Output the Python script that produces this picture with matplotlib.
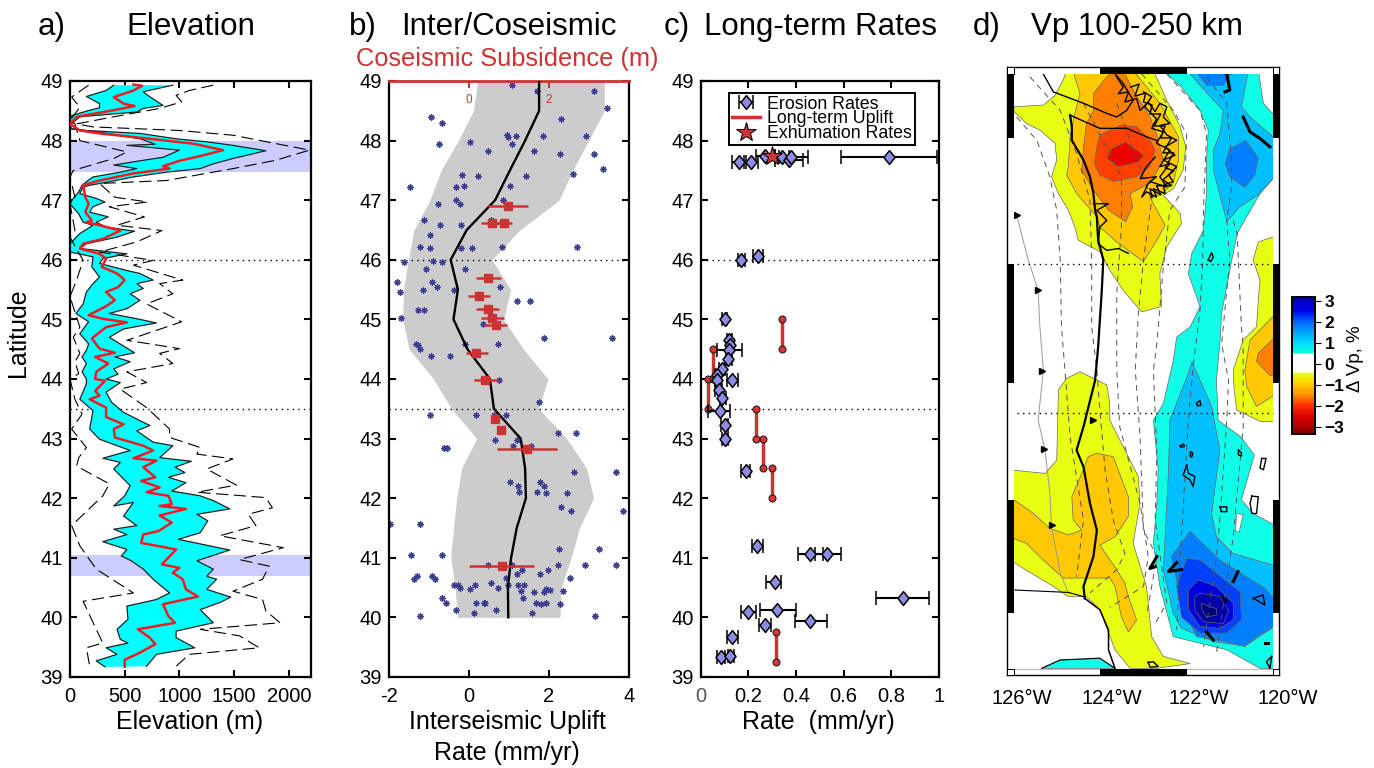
import matplotlib
matplotlib.use('Agg')
import matplotlib.pyplot as plt
from matplotlib.colors import LinearSegmentedColormap
from matplotlib.legend_handler import HandlerErrorbar
from matplotlib.lines import Line2D
from matplotlib.patches import Polygon, Rectangle
import numpy as np

plt.rcParams['font.family'] = ['Liberation Sans', 'DejaVu Sans']
plt.rcParams['axes.unicode_minus'] = False

W, H = 1374, 768
RED = '#cc3333'

# panel a, elevation (m) against latitude
upper = [(940,48.93),(670,48.82),(710,48.76),(850,48.59),(670,48.54),(610,48.48),(90,48.40),(0,48.26),(15,48.20),(150,48.17),
 (640,48.12),(970,48.03),(1250,47.98),(1490,47.92),(1790,47.83),(1490,47.70),(1310,47.61),(1190,47.53),(880,47.47),(580,47.39),
 (360,47.31),(180,47.25),(120,47.22),(90,47.11),(240,47.03),(320,46.97),(210,46.89),(180,46.80),(350,46.72),(240,46.63),
 (330,46.55),(590,46.48),(430,46.38),(150,46.27),(90,46.19),(520,46.10),(300,46.02),(270,45.94),(520,45.82),(640,45.77),
 (760,45.66),(610,45.60),(670,45.52),(550,45.43),(640,45.32),(520,45.18),(360,45.10),(640,45.00),(790,44.94),(490,44.84),
 (360,44.70),(430,44.62),(590,44.44),(410,44.37),(550,44.29),(400,44.17),(440,44.08),(330,44.00),(460,43.94),(330,43.78),
 (380,43.61),(490,43.44),(640,43.30),(730,43.22),(610,43.13),(760,42.94),(940,42.88),(820,42.68),(1110,42.62),(960,42.52),
 (1050,42.43),(900,42.35),(1060,42.26),(930,42.12),(1190,42.04),(1310,41.96),(1460,41.82),(1160,41.73),(1260,41.62),(1190,41.42),
 (990,41.31),(1460,41.13),(1160,40.95),(1310,40.81),(1250,40.69),(1340,40.64),(1250,40.47),(1470,40.34),(1370,40.25),(1190,40.13),
 (1310,39.91),(970,39.77),(970,39.66),(1140,39.49),(790,39.38),(700,39.18)]
lower = [(400,48.93),(330,48.84),(150,48.74),(270,48.62),(270,48.55),(180,48.51),(15,48.42),(0,48.34),(0,48.20),(270,48.14),
 (640,48.03),(780,47.94),(520,47.92),(1000,47.84),(850,47.72),(670,47.67),(400,47.59),(610,47.53),(460,47.47),(210,47.39),
 (150,47.31),(110,47.25),(80,47.14),(30,47.03),(0,46.94),(80,46.77),(120,46.63),(210,46.58),(90,46.44),(0,46.27),
 (0,46.13),(210,46.05),(200,45.88),(270,45.71),(210,45.60),(150,45.46),(120,45.26),(55,45.10),(170,44.96),(90,44.76),
 (170,44.59),(150,44.48),(110,44.37),(150,44.26),(110,44.12),(150,44.00),(150,43.92),(90,43.66),(210,43.47),(180,43.16),
 (270,42.99),(550,42.80),(300,42.67),(460,42.60),(400,42.49),(550,42.21),(500,42.04),(400,41.87),(580,41.93),(490,41.70),
 (610,41.54),(400,41.48),(520,41.39),(300,41.27),(520,41.14),(470,41.03),(560,40.95),(670,40.81),(760,40.64),(910,40.41),
 (790,40.30),(520,40.19),(530,39.97),(430,39.80),(460,39.63),(530,39.57),(330,39.49),(430,39.38),(240,39.27),(320,39.17)]
mean_elev = [(580,48.94),(660,48.92),(580,48.84),(400,48.73),(490,48.62),(590,48.58),(400,48.51),(60,48.40),(0,48.28),(90,48.17),
 (270,48.12),(580,48.06),(1120,47.95),(1400,47.84),(1190,47.74),(1000,47.66),(850,47.57),(910,47.53),(580,47.45),(270,47.33),
 (120,47.25),(140,47.05),(170,46.94),(140,46.80),(200,46.66),(150,46.63),(270,46.58),(460,46.49),(300,46.35),(120,46.27),
 (90,46.19),(270,46.10),(330,46.02),(290,45.88),(430,45.77),(500,45.66),(440,45.54),(330,45.46),(410,45.32),(320,45.21),
 (170,45.07),(300,45.01),(520,44.95),(330,44.87),(200,44.68),(270,44.51),(410,44.44),(230,44.37),(350,44.26),(240,44.12),
 (230,44.00),(320,43.97),(230,43.80),(270,43.72),(180,43.66),(330,43.52),(330,43.36),(490,43.24),(400,43.16),(410,43.02),
 (670,42.88),(760,42.80),(580,42.67),(790,42.63),(670,42.52),(780,42.35),(650,42.29),(820,42.18),(700,42.10),(900,42.04),
 (930,41.90),(820,41.87),(1060,41.82),(820,41.71),(930,41.59),(810,41.45),(670,41.39),(650,41.25),(970,41.14),(840,40.89),
 (1000,40.83),(940,40.75),(1030,40.64),(1060,40.47),(1170,40.35),(850,40.22),(900,40.02),(960,39.91),(620,39.80),(730,39.66),
 (780,39.55),(640,39.41),(500,39.29),(500,39.17)]
max_elev = [(1310,48.93),(1090,48.84),(970,48.76),(1020,48.65),(820,48.54),(400,48.40),(60,48.28),(210,48.23),(1000,48.17),(1490,48.09),
 (2190,47.84),(1880,47.67),(1490,47.53),(880,47.33),(270,47.28),(410,47.05),(710,46.97),(360,46.89),(680,46.72),(430,46.58),
 (840,46.49),(610,46.30),(270,46.13),(760,45.99),(580,45.91),(1030,45.66),(820,45.60),(940,45.43),(700,45.26),(1020,44.96),
 (700,44.76),(520,44.65),(1000,44.51),(820,44.43),(940,44.26),(520,44.12),(700,43.94),(460,43.83),(700,43.52),(910,43.16),
 (910,43.02),(1190,42.85),(1160,42.74),(1490,42.66),(1250,42.49),(1520,42.22),(1160,42.10),(1790,42.01),(1850,41.84),(1630,41.73),
 (1700,41.54),(1370,41.37),(1950,41.17),(1550,40.97),(1820,40.86),(1760,40.64),(1490,40.44),(1760,40.30),(1790,40.11),(1920,39.91),
 (1190,39.80),(1550,39.69),(1730,39.49),(1090,39.38),(970,39.18)]
min_elev = [(170,48.93),(15,48.73),(90,48.56),(0,48.34),(45,48.28),(90,48.00),(520,47.81),(400,47.70),(30,47.50),(0,47.39),
 (45,47.05),(0,46.94),(45,46.49),(0,46.38),(120,45.99),(60,45.66),(0,45.38),(90,44.87),(30,44.70),(90,44.43),
 (45,44.29),(80,44.09),(0,44.00),(45,43.66),(110,43.41),(15,43.16),(150,42.85),(80,42.68),(60,42.54),(360,42.24),
 (300,42.04),(15,41.54),(90,41.20),(240,40.81),(580,40.41),(120,40.27),(240,39.80),(300,39.57),(150,39.49),(180,39.18)]
bands = [(47.47, 48.0), (40.7, 41.05)]

# panel b, interseismic uplift
grid_lat = [49,48.5,48,47.5,47,46.5,46,45.5,45,44.5,44,43.5,43,42.5,42,41.5,41,40.5,40]
uplift = [1.76,1.76,1.41,1.03,0.66,-0.05,-0.45,-0.27,-0.38,-0.03,0.53,0.63,1.30,1.41,1.43,1.20,1.06,0.98,0.99]
uplift_hi = [3.39,3.39,3.0,2.6,2.26,1.28,0.58,1.05,0.87,1.37,1.98,1.75,2.45,2.95,3.12,2.77,2.56,2.31,2.28]
uplift_lo = [0.22,0.12,-0.26,-0.69,-0.97,-1.37,-1.51,-1.63,-1.65,-1.49,-0.88,-0.43,0.2,-0.18,-0.3,-0.38,-0.45,-0.34,-0.28]
star_x = [1.08,1.70,3.12,3.45,-.94,-.68,2.31,.95,.97,1.17,1.85,2.93,-.74,.02,1.08,.47,1.64,2.28,3.13,3.35,2.60,1.43,-.17,.23,-1.48,
 -.33,-.13,1.02,-.31,.86,-.23,-.76,-1.12,.55,-.73,-.19,-.98,-1.23,-.97,-.20,.07,.83,2.70,-1.61,-.90,-.68,-1.08,-.09,-1.80,-.91,
 -.79,-1.72,-1.14,-.36,.79,1.20,1.54,-1.26,-1.11,-1.69,.36,1.88,3.57,-1.32,-1.28,-1.23,-.09,.72,-.94,-.47,.75,1.76,-.97,.18,.63,
 .94,2.24,2.69,.65,1.20,1.11,1.55,-.63,-.55,2.63,3.69,1.02,1.77,1.23,1.87,1.25,1.70,1.93,2.46,2.31,2.55,3.85,-1.97,-1.23,2.26,
 3.25,-1.45,-.67,.48,1.08,2.23,2.90,3.68,1.33,1.98,1.20,1.78,-1.37,-1.30,-.91,-.84,.93,2.53,-.36,-.28,-.23,.16,.56,.73,.04,
 .99,1.23,1.38,1.31,1.64,1.88,1.93,2.02,2.35,-.67,-.58,1.35,.17,.38,.41,1.68,1.81,1.93,2.28,-.31,.69,.13,1.58,-1.21,3.16]
star_lat = [48.93,48.83,48.84,48.55,48.40,48.30,48.37,48.10,48.06,48.07,48.07,48.07,47.94,47.97,47.94,47.82,47.82,47.77,47.77,47.52,47.44,47.41,47.43,47.41,47.22,
 47.22,47.24,47.24,47.01,47.01,46.93,46.93,46.66,46.66,46.58,46.58,46.42,46.21,46.20,46.20,46.20,46.21,46.21,45.96,45.98,45.96,45.85,45.85,45.63,45.63,
 45.54,45.46,45.49,45.49,45.54,45.31,45.31,45.16,45.16,45.02,44.92,44.69,44.69,44.59,44.57,44.51,44.59,44.59,44.39,44.39,43.99,43.62,43.40,43.40,43.40,
 43.40,43.09,43.09,42.97,42.97,42.87,42.87,42.84,42.84,42.44,42.44,42.27,42.27,42.21,42.21,42.10,42.10,42.08,42.08,41.85,41.78,41.78,41.56,41.56,41.15,
 41.15,41.05,41.05,40.88,40.88,40.88,40.88,40.88,40.79,40.79,40.73,40.73,40.64,40.69,40.69,40.64,40.66,40.66,40.55,40.54,40.50,40.54,40.58,40.50,40.47,
 40.55,40.54,40.54,40.44,40.42,40.42,40.47,40.46,40.44,40.32,40.25,40.32,40.25,40.25,40.25,40.24,40.22,40.24,40.22,40.12,40.12,40.08,40.08,40.02,40.02]
sub_x = [.99,.58,.88,.48,.26,.47,.59,.68,.18,.41,.66,.80,1.45,.82]
sub_lat = [46.90,46.61,46.61,45.70,45.40,45.18,45.03,44.90,44.43,43.99,43.33,43.15,42.83,40.87]
sub_lo = [.49,.30,.58,.18,-.02,.18,.31,.39,-.08,.12,.66,.80,.70,0]
sub_hi = [1.49,.87,1.09,.80,.53,.75,.88,.96,.48,.72,.66,.80,2.20,1.63]

# panel c, long-term rates
ero_x = [.16,.21,.27,.34,.37,.38,.79,.17,.24,.10,.12,.125,.12,.115,.09,.07,.13,.07,.075,.09,.08,.10,.10,.19,.235,.46,.53,.31,.85,.32,.20,.46,.27,.13,.085,.125]
ero_lat = [47.64,47.64,47.74,47.73,47.68,47.73,47.73,46.0,46.07,45.01,44.66,44.57,44.48,44.34,44.16,44.06,43.99,43.98,43.81,43.68,43.47,43.22,42.99,42.45,41.20,41.06,41.06,40.60,40.33,40.12,40.09,39.94,39.87,39.67,39.34,39.36]
ero_lo = [.13,.18,.23,.31,.31,.33,.59,.155,.22,.09,.11,.115,.07,.105,.075,.06,.11,.06,.06,.08,.03,.085,.09,.17,.215,.41,.48,.275,.735,.25,.17,.395,.245,.11,.07,.115]
ero_hi = [.19,.24,.31,.37,.43,.45,.99,.185,.26,.11,.13,.14,.175,.13,.10,.08,.155,.08,.09,.105,.125,.115,.115,.205,.26,.515,.59,.335,.96,.40,.23,.53,.295,.155,.10,.14]
lt_x = [.34,.05,.03,.23,.26,.30,.315]
lt_top = [45,44.5,44,43.5,43,42.5,39.76]
lt_bot = [44.5,44,43.5,43,42.5,42,39.26]
exh_x, exh_lat = [.30], [47.75]

# panel d, contour patches in lon/lat
yellow_n = [(-126.00,48.62),(-125.32,48.65),(-125.05,48.81),(-124.86,49.07),(-124.78,49.23),(-122.77,49.23),(-122.46,48.73),(-122.15,48.29),(-122.02,47.95),(-122.08,47.56),(-122.31,47.25),(-122.54,47.14),(-122.15,46.84),(-122.12,46.67),(-122.46,46.28),(-122.62,45.83),(-122.58,45.28),(-123.04,45.19),(-123.47,45.55),(-123.78,45.89),(-124.01,46.20),(-124.51,46.39),(-124.59,46.61),(-124.74,46.89),(-124.97,47.17),(-125.13,47.45),(-125.01,47.73),(-125.05,48.01),(-125.40,48.23),(-125.71,48.34),(-126.00,48.54)]
lorange_n = [(-124.64,49.23),(-124.47,48.84),(-124.59,48.51),(-124.70,48.12),(-124.74,47.62),(-124.78,47.48),(-124.55,47.17),(-124.08,46.78),(-124.01,46.61),(-123.62,46.36),(-123.00,46.03),(-122.69,46.39),(-122.50,46.64),(-122.85,47.11),(-122.62,47.14),(-122.31,47.34),(-122.19,47.73),(-122.19,48.12),(-122.62,48.68),(-123.24,49.23)]
orange_n = [(-123.66,49.23),(-123.85,49.12),(-124.16,48.84),(-124.16,48.56),(-124.32,48.34),(-124.39,47.95),(-124.43,47.56),(-124.16,47.23),(-123.81,46.89),(-123.41,46.70),(-123.25,46.95),(-123.31,47.17),(-122.85,47.34),(-122.54,47.73),(-122.70,48.17),(-122.85,48.45),(-123.24,48.90),(-123.47,49.23)]
redorange_n = [(-124.01,48.15),(-123.54,48.31),(-123.16,48.29),(-122.85,48.06),(-122.73,47.90),(-122.85,47.62),(-123.16,47.45),(-123.70,47.37),(-124.01,47.48),(-124.14,47.67),(-124.08,47.95)]
red_n = [(-123.41,48.03),(-123.00,47.81),(-123.12,47.70),(-123.58,47.62),(-123.85,47.76),(-123.74,47.92)]
cyan_main = [(-122.54,49.23),(-122.12,48.95),(-121.69,48.56),(-121.50,48.23),(-121.54,47.73),(-121.54,47.17),(-121.61,46.56),(-121.88,46.17),(-121.96,45.83),(-121.69,45.28),(-121.92,44.94),(-122.23,44.77),(-122.31,44.38),(-122.54,43.66),(-122.77,43.38),(-122.66,42.55),(-122.69,41.99),(-122.77,41.32),(-122.62,40.60),(-122.31,39.76),(-121.07,39.54),(-120.30,39.23),(-119.9,39.23),(-119.9,41.60),(-120.46,41.82),(-120.73,42.05),(-120.43,42.80),(-120.76,43.11),(-121.27,43.38),(-121.31,44.05),(-121.23,44.66),(-121.19,45.16),(-121.00,45.89),(-120.83,46.50),(-120.30,47.17),(-119.9,47.50),(-119.9,48.42),(-120.22,48.68),(-120.34,49.23)]
lblue_n = [(-122.00,49.23),(-121.38,48.73),(-121.15,48.56),(-121.23,48.17),(-121.38,47.90),(-121.38,47.56),(-121.07,46.70),(-120.76,46.95),(-120.30,47.17),(-119.9,47.50),(-119.9,48.06),(-120.53,48.45),(-120.73,48.62),(-120.57,49.23)]
dblue_n = [(-120.63,48.06),(-120.34,47.76),(-120.42,47.48),(-120.65,47.27),(-121.00,47.45),(-121.11,47.67),(-121.00,47.92)]
dblue_top = [(-121.81,49.23),(-121.54,48.98),(-121.15,48.98),(-120.92,49.23)]
lblue_s = [(-121.88,44.36),(-121.96,44.16),(-122.39,43.38),(-122.42,42.55),(-122.50,41.43),(-122.54,40.88),(-122.31,40.15),(-122.12,39.90),(-121.38,39.68),(-120.65,39.60),(-119.9,39.96),(-119.9,40.93),(-120.15,40.99),(-120.92,41.15),(-121.31,41.43),(-121.42,41.82),(-121.23,42.88),(-121.42,43.61),(-121.69,44.05)]
dblue_s = [(-121.92,41.52),(-122.35,41.10),(-122.12,40.32),(-121.77,39.76),(-121.31,39.71),(-120.65,39.60),(-120.38,39.76),(-119.9,39.96),(-119.9,40.32),(-120.19,40.57),(-121.23,41.04)]
blue_s = [(-122.00,41.07),(-121.69,41.04),(-120.76,40.51),(-120.73,40.04),(-121.07,39.82),(-121.69,39.82),(-122.12,40.09),(-122.23,40.60)]
navy1_s = [(-121.73,40.71),(-121.31,40.60),(-120.92,40.32),(-120.92,40.04),(-121.23,39.90),(-121.69,39.93),(-121.96,40.21),(-121.96,40.54)]
navy2_s = [(-121.69,40.49),(-121.23,40.43),(-121.03,40.21),(-121.15,39.98),(-121.61,40.01),(-121.81,40.21),(-121.81,40.43)]
navy3_s = [(-121.65,40.32),(-121.46,40.26),(-121.31,40.23),(-121.31,40.12),(-121.54,40.09),(-121.65,40.21)]
yellow_s = [(-124.47,44.19),(-123.85,43.97),(-123.78,43.66),(-123.78,43.38),(-123.12,42.44),(-123.08,41.99),(-123.24,41.32),(-122.93,40.60),(-122.81,39.76),(-122.54,39.43),(-121.92,39.31),(-122.69,39.23),(-123.31,39.23),(-123.66,39.54),(-124.01,40.21),(-124.32,40.43),(-124.74,40.43),(-125.09,40.60),(-126.1,41.04),(-126.1,42.55),(-125.28,42.49),(-125.01,42.71),(-124.97,43.89),(-124.78,44.08)]
lorange_s = [(-124.08,42.83),(-123.70,42.77),(-123.35,42.10),(-123.35,41.77),(-123.66,41.43),(-124.01,41.29),(-123.62,40.88),(-123.43,40.65),(-123.35,40.43),(-123.16,40.04),(-123.35,39.84),(-123.51,40.09),(-123.66,40.60),(-123.78,40.74),(-124.86,40.74),(-125.32,41.04),(-125.71,41.32),(-126.1,41.43),(-126.1,42.10),(-125.55,41.82),(-125.17,41.57),(-124.74,41.46),(-124.43,41.54),(-124.63,41.71),(-124.66,42.10),(-124.43,42.49),(-124.28,42.77)]
yellow_e = [(-119.9,46.47),(-120.34,46.36),(-120.46,46.06),(-120.30,45.72),(-120.34,45.39),(-120.38,44.94),(-120.69,44.72),(-120.92,44.22),(-120.90,43.89),(-120.84,43.55),(-120.30,43.36),(-119.9,43.36)]
lorange_e = [(-119.9,45.19),(-120.53,44.72),(-120.65,44.22),(-120.61,43.94),(-120.38,43.61),(-119.9,43.83)]
orange_e = [(-119.9,44.80),(-120.34,44.50),(-120.38,44.36),(-120.07,44.13),(-119.9,44.10)]
cyan_bottom = [(-125.36,39.23),(-124.93,39.37),(-124.01,39.40),(-123.66,39.23)]
white_hole = [(-120.84,41.82),(-120.69,41.80),(-120.78,41.52),(-120.87,41.52)]

# panel d, coast and lake lines
coast_n = [(-124.70,48.48),(-124.66,48.29),(-124.66,48.06),(-124.39,47.73),(-124.24,47.45),(-124.16,47.17),(-124.12,46.89),(-124.08,46.78),(-124.05,46.39),(-123.93,46.06),(-123.97,45.50),(-124.05,44.61),(-124.12,44.05),(-124.39,43.27),(-124.55,42.88),(-124.39,42.60),(-124.24,41.99),(-124.08,41.54),(-124.16,41.10),(-124.39,40.60),(-124.36,40.40)]
coast_s = [(-124.36,40.40),(-124.01,40.21),(-123.81,39.87),(-123.81,39.54),(-123.66,39.23)]
strait1 = [(-125.32,49.17),(-125.09,48.87),(-124.39,48.68),(-123.85,48.51),(-123.62,48.45),(-123.39,48.56),(-123.24,48.73),(-123.47,49.01),(-123.66,49.17)]
strait2 = [(-124.70,48.48),(-124.01,48.26),(-123.39,48.26),(-122.93,48.12),(-122.70,48.06)]
sound_a = [(-123.62,49.12),(-123.47,48.95),(-123.58,48.84),(-123.35,48.87),(-123.43,48.70),(-123.16,48.76),(-123.08,48.56),(-122.89,48.70),(-122.73,48.54),(-122.62,48.68),(-122.46,48.62),(-122.54,48.45),(-122.39,48.34),(-122.62,48.31),(-122.46,48.15),(-122.23,48.06),(-122.50,47.95),(-122.27,47.81),(-122.54,47.73),(-122.23,47.62),(-122.42,47.48),(-122.31,47.37),(-122.54,47.31),(-122.50,47.17),(-122.77,47.25),(-122.70,47.11),(-122.93,47.20),(-123.04,47.11),(-122.89,47.34),(-122.70,47.45),(-123.08,47.42),(-122.93,47.62),(-122.73,47.78)]
sound_b = [(-123.00,48.87),(-122.81,48.79),(-122.97,48.62),(-122.70,48.42),(-122.81,48.26),(-122.54,48.20),(-122.70,48.01),(-122.39,47.90),(-122.62,47.62),(-122.39,47.67),(-122.62,47.45),(-122.46,47.28),(-122.85,47.37)]
sound_c = [(-123.3,48.95),(-123.1,49.0),(-123.2,48.8),(-122.95,48.85),(-123.0,48.7),(-122.8,48.65),(-122.85,48.5),(-122.6,48.5),(-122.75,48.3),(-122.5,48.3),(-122.6,48.1),(-122.35,48.1),(-122.55,47.85),(-122.3,47.85),(-122.5,47.6),(-122.3,47.55),(-122.55,47.4),(-122.35,47.3),(-122.7,47.3),(-122.6,47.15),(-122.85,47.25),(-122.8,47.1)]
columbia = [(-124.16,47.00),(-123.81,47.00),(-124.08,46.89),(-123.85,46.72),(-124.01,46.61),(-124.05,46.33),(-123.85,46.22),(-123.58,46.25),(-123.35,46.17)]
thick_lines = [
 [(-120.69,48.45),(-120.53,48.20),(-120.30,48.09),(-120.07,47.95)],
 [(-121.07,49.17),(-121.00,48.90),(-121.11,48.87)],
 [(-122.69,41.10),(-122.85,40.90),(-122.73,40.93)],
 [(-122.23,41.0),(-122.42,40.85),(-122.12,40.88)],
 [(-120.81,40.85),(-120.92,40.68)],
 [(-121.54,39.84),(-121.38,39.70)],
 [(-120.19,39.66),(-120.11,39.66)],
]
lakes = [
 [(-121.50,46.06),(-121.42,46.18),(-121.38,46.11),(-121.44,46.03)],
 [(-121.77,43.66),(-121.69,43.71),(-121.67,43.63),(-121.75,43.62)],
 [(-122.15,42.95),(-122.07,42.98),(-122.05,42.94),(-122.14,42.93)],
 [(-121.91,42.85),(-121.86,42.83),(-121.88,42.76),(-121.92,42.78)],
 [(-122.0,42.63),(-121.96,42.49),(-121.81,42.44),(-121.85,42.27),(-121.92,42.38),(-122.08,42.46)],
 [(-120.80,42.88),(-120.73,42.83),(-120.73,42.78),(-120.80,42.80)],
 [(-120.26,42.74),(-120.16,42.74),(-120.22,42.55),(-120.30,42.58)],
 [(-120.49,42.11),(-120.34,42.10),(-120.38,41.82),(-120.49,41.82),(-120.53,41.99)],
 [(-121.23,41.93),(-121.07,41.93),(-121.07,41.85),(-121.19,41.85)],
 [(-121.19,40.43),(-121.07,40.38),(-121.11,40.32)],
 [(-120.46,40.40),(-120.23,40.46),(-120.19,40.29),(-120.38,40.37)],
 [(-120.03,39.43),(-120.15,39.34),(-120.07,39.23)],
 [(-122.89,39.33),(-122.77,39.34),(-122.66,39.26),(-122.85,39.25)],
]
mendocino = [(-125.98,40.54),(-124.74,40.50),(-124.39,40.43)]
trench = [(-125.94,46.81),(-125.67,46.06),(-125.44,45.55),(-125.40,44.94),(-125.32,44.22),(-125.44,43.38),(-125.28,42.88),(-125.17,42.16),(-125.13,41.60),(-124.93,40.82),(-124.74,40.49)]
trench_marks = [(-125.93,46.81),(-125.44,45.55),(-125.34,44.20),(-125.31,42.90),(-125.13,41.62),(-124.17,43.39)]
slab_lines = [
 [(-125.94,48.45),(-125.47,48.06),(-125.17,47.45),(-125.01,46.89),(-124.93,46.06),(-124.90,44.94),(-124.82,44.22),(-124.70,43.10),(-124.39,41.71),(-124.55,40.76)],
 [(-125.63,49.12),(-124.93,48.56),(-124.55,47.84),(-124.24,47.06),(-124.20,46.06),(-124.20,44.94),(-124.08,44.22),(-124.01,43.55),(-123.89,42.55),(-123.70,41.71),(-123.43,41.15),(-123.62,40.88),(-124.24,40.49)],
 [(-124.39,48.68),(-123.51,47.45),(-123.51,46.61),(-123.62,45.50),(-123.62,44.22),(-123.55,43.27),(-123.08,41.99),(-122.89,41.10),(-123.0,40.60),(-123.78,40.25)],
 [(-123.62,48.68),(-122.81,47.06),(-123.0,46.06),(-123.12,45.16),(-123.19,44.22),(-123.08,43.11),(-123.0,41.54),(-122.69,41.10),(-122.93,40.10)],
 [(-123.04,49.17),(-122.31,48.56),(-122.0,48.17),(-122.04,47.28),(-122.39,46.89),(-122.54,45.94),(-122.69,44.66),(-122.77,44.22),(-122.69,42.83),(-122.73,41.71),(-122.46,40.32),(-122.77,39.93)],
 [(-122.46,49.17),(-121.69,48.56),(-121.54,48.17),(-121.61,46.89),(-121.63,46.0),(-121.69,45.22),(-121.85,44.27),(-121.96,43.38),(-122.12,41.43),(-122.23,39.87)],
 [(-121.54,49.12),(-121.07,48.68),(-120.96,47.73),(-120.96,47.28),(-121.07,46.72),(-121.0,46.06),(-121.19,44.66),(-121.03,44.05),(-121.07,43.38),(-121.23,41.71),(-121.31,41.10),(-121.61,39.59)],
 [(-120.92,46.72),(-120.83,46.50),(-120.73,44.94),(-120.69,44.55),(-120.69,43.27),(-120.92,41.43),(-121.31,39.48)],
]
lon_ticks = ['126°W', '124°W', '122°W', '120°W']
lon_label_px = [1022, 1112, 1199, 1288]
cbar_ticks = [3, 2, 1, 0, -1, -2, -3]
cbar_nodes = [(-3.3,'#800000'),(-3,'#b00000'),(-2.5,'#e00000'),(-2,'#ff3000'),(-1.5,'#ff9000'),(-1,'#ffd000'),(-0.47,'#e8ff14'),
              (-0.45,'#ffffff'),(0.45,'#ffffff'),(0.47,'#10ffd8'),(1,'#00d8ff'),(1.5,'#00a0ff'),(2,'#0060ff'),(2.5,'#0000f0'),(3,'#0000b0'),(3.3,'#000080')]
tall_diamond = [(0, 1), (.8, 0), (0, -1), (-.8, 0), (0, 1)]


def add_ax(left, top, right, bottom):
    return fig.add_axes([left / W, 1 - bottom / H, (right - left) / W, (bottom - top) / H])


def ftext(x, y, s, **kw):
    kw.setdefault('ha', 'center')
    kw.setdefault('va', 'center')
    fig.text(x / W, 1 - y / H, s, **kw)


def style_lat_ax(ax):
    ax.set_ylim(39, 49)
    ax.set_yticks(range(39, 50))
    ax.tick_params(direction='in', length=5, width=1.5, top=True, right=True, labelsize=14.5, pad=5)
    ax.tick_params(axis='x', pad=7)
    for s in ax.spines.values():
        s.set_linewidth(1.6)
    ax.axhline(46, color='k', lw=1, ls=(0, (1, 3)), zorder=1)
    ax.axhline(43.5, color='k', lw=1, ls=(0, (1, 3)), zorder=1)


fig = plt.figure(figsize=(W / 100, H / 100), dpi=100)

# a) elevation
ax = add_ax(70, 81, 311, 677)
for lo, hi in bands:
    ax.axhspan(lo, hi, color='#ccccff', lw=0, zorder=0)
up, lw = np.array(upper), np.array(lower)
ax.fill(np.r_[up[:, 0], lw[::-1, 0]], np.r_[up[:, 1], lw[::-1, 1]], color='#00ffff', ec='none', zorder=2)
ax.plot(up[:, 0], up[:, 1], color='#222222', lw=0.9, zorder=3)
ax.plot(lw[:, 0], lw[:, 1], color='#222222', lw=0.9, zorder=3)
ax.plot(*np.array(mean_elev).T, color='#ee1c25', lw=1.8, zorder=4)
ax.plot(*np.array(max_elev).T, color='k', lw=0.8, ls=(0, (11, 5)), zorder=3)
ax.plot(*np.array(min_elev).T, color='k', lw=0.8, ls=(0, (11, 5)), zorder=3)
ax.set_xlim(0, 2203)
ax.set_xticks([0, 500, 1000, 1500, 2000])
style_lat_ax(ax)

# b) inter/coseismic
ax = add_ax(388.7, 81, 628.7, 677)
ax.fill_betweenx(grid_lat, uplift_lo, uplift_hi, color='#cccccc', lw=0, zorder=0)
ax.plot(uplift, grid_lat, color='k', lw=1.7, zorder=3)
ax.scatter(star_x, star_lat, marker='o', s=26, color='#c0c0dc', lw=0, zorder=2, alpha=0.7)
ax.scatter(star_x, star_lat, marker=(8, 2, 0), s=15, color='#3d3d90', lw=0.8, zorder=2)
sub_x_arr, sub_lo_arr, sub_hi_arr = np.array(sub_x), np.array(sub_lo), np.array(sub_hi)
ax.errorbar(sub_x, sub_lat, xerr=[sub_x_arr - sub_lo_arr, sub_hi_arr - sub_x_arr], fmt='s', ms=5.5, color=RED, elinewidth=1.8, zorder=4)
ax.set_xlim(-2, 4)
ax.set_xticks([-2, 0, 2, 4])
style_lat_ax(ax)
ax.tick_params(top=False)
ax.spines['top'].set_color(RED)
ax.spines['top'].set_linewidth(2)
sec = ax.secondary_xaxis('top')
sec.set_xticks([-2, 0, 2, 4], ['', '0', '2', ''])
sec.tick_params(direction='in', length=5, width=1.5, colors=RED, labelsize=8.5, pad=-18)
sec.spines['top'].set_visible(False)

# c) long-term rates
ax = add_ax(700.7, 81, 939, 677)
ax.vlines(lt_x, lt_bot, lt_top, color=RED, lw=2.5, zorder=2)
ax.plot(lt_x, lt_top, 'o', ms=5, mfc='#dd3333', mec='#222222', mew=0.8, zorder=3)
ax.plot(lt_x, lt_bot, 'o', ms=5, mfc='#dd3333', mec='#222222', mew=0.8, zorder=3)
ero_x_arr, ero_lo_arr, ero_hi_arr = np.array(ero_x), np.array(ero_lo), np.array(ero_hi)
ero = ax.errorbar(ero_x, ero_lat, xerr=[ero_x_arr - ero_lo_arr, ero_hi_arr - ero_x_arr], ls='none', marker=tall_diamond, ms=10,
                  mfc='#8c8ce6', mec='k', mew=1.1, ecolor='k', elinewidth=1.5, capsize=5, capthick=1.5, zorder=4)
exh, = ax.plot(exh_x, exh_lat, '*', ms=15, mfc=RED, mec='k', mew=0.7, zorder=5)
ax.set_xlim(0, 1)
ax.set_xticks([0, .2, .4, .6, .8, 1], ['0', '0.2', '0.4', '0.6', '0.8', '1'])
style_lat_ax(ax)
ax.get_xticklabels()[0].set_color('#555555')
leg = ax.legend([ero, Line2D([], [], color=RED, lw=2.5), exh], ['Erosion Rates', 'Long-term Uplift', 'Exhumation Rates'],
                loc='upper left', bbox_to_anchor=(0.119, 0.98), borderaxespad=0, fontsize=12.8, fancybox=False,
                framealpha=1, edgecolor='k', labelspacing=-0.12, handlelength=1.6, handletextpad=0.4, borderpad=0.15, numpoints=1,
                handler_map={ero: HandlerErrorbar(xerr_size=0.4)})
leg.get_frame().set_linewidth(1.4)

# d) map
ax = add_ax(1007, 67, 1279, 675)
ax.set_xlim(-126.162, -119.86)
ax.set_ylim(39.119, 49.286)
ax.set_xticks([])
ax.set_yticks([])
for s in ax.spines.values():
    s.set_linewidth(1.0)
clip = Rectangle((-126, 39.22), 6, 9.95, fill=False, lw=0, transform=ax.transData)
ax.add_patch(clip)


def poly(pts, color, edge='#666666'):
    p = Polygon(pts, closed=True, fc=color, ec=edge, lw=0.5, zorder=2)
    ax.add_patch(p)
    p.set_clip_path(clip)


def line(pts, **kw):
    a = np.array(pts)
    l, = ax.plot(a[:, 0], a[:, 1], **kw)
    l.set_clip_path(clip)


for pts, col in [(yellow_n, '#e8ff14'), (lorange_n, '#ffc800'), (orange_n, '#ff8000'), (redorange_n, '#ff4000'), (red_n, '#ee0000'),
                 (cyan_main, '#10ffe8'), (lblue_n, '#00c0ff'), (dblue_n, '#0080ff'), (dblue_top, '#0080ff'),
                 (lblue_s, '#00c0ff'), (dblue_s, '#0080ff'), (blue_s, '#0040ff'), (navy1_s, '#0000e0'), (navy2_s, '#0000a8'), (navy3_s, '#000078'),
                 (yellow_s, '#e8ff14'), (lorange_s, '#ffc800'), (yellow_e, '#e8ff14'), (lorange_e, '#ffc800'), (orange_e, '#ff8000'),
                 (cyan_bottom, '#10ffe8'), (white_hole, '#ffffff')]:
    poly(pts, col)

for pts in slab_lines:
    line(pts, color='#555555', lw=0.7, ls=(0, (6, 5)), zorder=3)
line(trench, color='#999999', lw=0.7, zorder=3)
line(trench_marks, color='k', ls='none', marker='>', ms=4.5, zorder=4)
line(mendocino, color='k', lw=0.8, zorder=4)
line(cyan_bottom, color='k', lw=0.8, zorder=4)
line(coast_n, color='k', lw=1.6, zorder=5)
line(coast_s, color='k', lw=1.1, zorder=5)
line(strait1, color='k', lw=1.0, zorder=5)
line(strait2, color='k', lw=1.0, zorder=5)
line(sound_a, color='k', lw=1.0, zorder=5)
line(sound_b, color='k', lw=1.0, zorder=5)
line(sound_c, color='k', lw=1.0, zorder=5)
line(columbia, color='k', lw=1.0, zorder=5)
for pts in thick_lines:
    line(pts, color='k', lw=2.2, zorder=5)
for pts in lakes:
    line(pts + pts[:1], color='k', lw=1.0, zorder=5)
for lat in (46, 43.5):
    ax.plot([-125.94, -120], [lat, lat], color='k', lw=1, ls=(0, (1, 3)), zorder=6)
# frame blocks
for y0, y1 in [(48.1, 49.17), (44, 46), (40.15, 42.05)]:
    ax.add_patch(Rectangle((-126.162, y0), 0.162, y1 - y0, fc='k', ec='none', zorder=7))
    ax.add_patch(Rectangle((-120, y0), 0.14, y1 - y0, fc='k', ec='none', zorder=7))
ax.add_patch(Rectangle((-124, 49.17), 2, 0.116, fc='k', ec='none', zorder=7))
ax.add_patch(Rectangle((-124, 39.119), 2, 0.101, fc='k', ec='none', zorder=7))
for cx, w in [(-126.162, 0.162), (-120, 0.14)]:
    for cy, h in [(49.17, 0.116), (39.119, 0.101)]:
        ax.add_patch(Rectangle((cx, cy), w, h, fc='w', ec='k', lw=0.7, zorder=7))
ax.plot([-126, -120], [39.22, 39.22], color='#bbbbbb', lw=0.8, zorder=6)

# colorbar
cax = add_ax(1292, 297, 1315, 434)
cmap = LinearSegmentedColormap.from_list('vp', [((v + 3.3) / 6.6, c) for v, c in cbar_nodes], N=512)
cax.imshow(np.linspace(3.3, -3.3, 400).reshape(-1, 1), extent=[0, 1, -3.3, 3.3], aspect='auto', cmap=cmap, vmin=-3.3, vmax=3.3)
cax.set_ylim(-3.33, 3.17)
cax.set_xticks([])
cax.yaxis.tick_right()
cax.set_yticks(cbar_ticks, ['3', '2', '1', '0', '\u22121', '\u22122', '\u22123'], fontweight='bold', fontsize=12.5)
cax.tick_params(length=4, width=0.8, pad=3, direction='out')
for s in cax.spines.values():
    s.set_linewidth(1.4)

# text
for x, s in zip([52, 191, 363, 509, 677, 820, 987, 1137],
                ['a)', 'Elevation', 'b)', 'Inter/Coseismic', 'c)', 'Long-term Rates', 'd)', 'Vp 100-250 km']):
    ftext(x, 27, s, fontsize=22.5)
ftext(507, 59, 'Coseismic Subsidence (m)', fontsize=18.3, color=RED)
ftext(18, 333, 'Latitude', fontsize=18, rotation=90)
ftext(190, 722, 'Elevation (m)', fontsize=18)
ftext(507, 722, 'Interseismic Uplift', fontsize=18)
ftext(507, 753, 'Rate (mm/yr)', fontsize=18)
ftext(818, 722, 'Rate  (mm/yr)', fontsize=18)
for x, s in zip(lon_label_px, lon_ticks):
    ftext(x, 698, s, fontsize=14.5)
ftext(1356, 359, '\u0394 Vp, %', fontsize=13.5, rotation=90)

fig.savefig('out.png', dpi=100)
